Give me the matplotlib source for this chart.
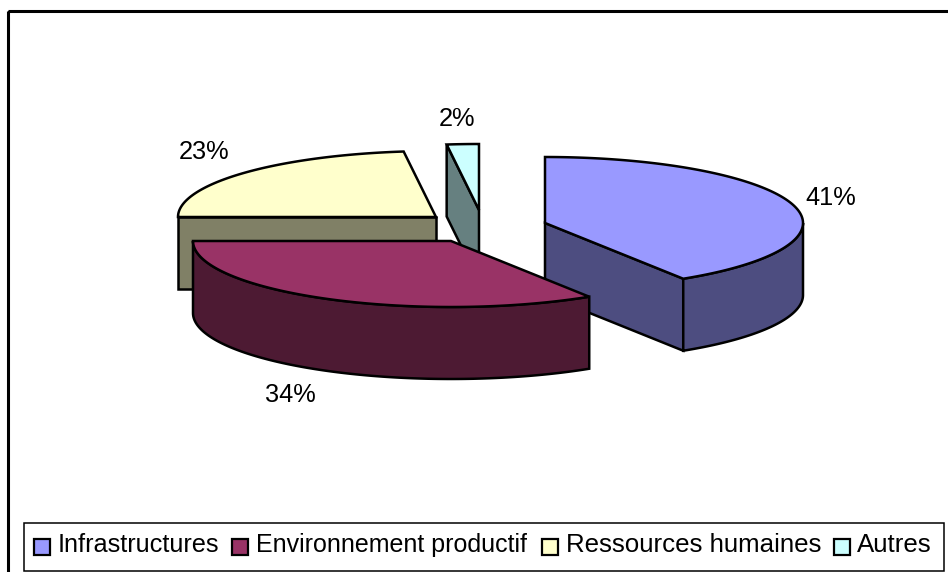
import numpy as np
import matplotlib
matplotlib.use("Agg")
import matplotlib.pyplot as plt
from matplotlib.patches import Polygon, Rectangle

plt.rcParams['font.family'] = ['Liberation Sans', 'DejaVu Sans']

categories = ["Infrastructures", "Environnement productif", "Ressources humaines", "Autres"]
shares = [41, 34, 23, 2]
top_colors = ["#9999FF", "#993366", "#FFFFCC", "#CCFFFF"]
side_colors = ["#4D4D80", "#4D1A33", "#808066", "#668080"]
# exploded slice apexes in pixel space
apex_x = [545, 451, 436, 479]
apex_y = [223, 241, 217, 210]
label_pos = [(831, 198), (290, 395), (204, 152), (457, 119)]
legend_swatch_x = [34, 232, 542, 834]
legend_text_x = [58, 256, 566, 857]
legend_font = [18.2, 18.0, 18.6, 18.6]

RX, RY, DEPTH = 258, 66, 72
W, H = 948, 572

fig = plt.figure(figsize=(W / 100, H / 100), dpi=100, facecolor="white")
ax = fig.add_axes([0, 0, 1, 1])
ax.set_xlim(0, W)
ax.set_ylim(H, 0)
ax.axis("off")


def rim(cx, cy, t0, t1):
    # Points along the elliptical rim; angles run clockwise from twelve o'clock.
    t = np.radians(np.linspace(t0, t1, 160))
    return np.column_stack([cx + RX * np.sin(t), cy - RY * np.cos(t)])


def poly(points, color, z):
    ax.add_patch(Polygon(points, closed=True, facecolor=color, edgecolor="black",
                         linewidth=1.8, joinstyle="miter", zorder=z))


# Back-to-front painting order: yellow, cyan, blue, red
edges = np.concatenate([[0], np.cumsum(shares)]) * 3.6
for layer, i in enumerate([2, 3, 0, 1]):
    cx, cy = apex_x[i], apex_y[i]
    t0, t1 = edges[i], edges[i + 1]
    z = 2 + layer
    drop = np.array([0, DEPTH])
    # Radial walls that turn toward the viewer
    for t, normal in ((t0, t0 - 90), (t1, t1 + 90)):
        if np.cos(np.radians(normal)) < -1e-6:
            outer = rim(cx, cy, t, t)[0]
            inner = np.array([cx, cy])
            poly([inner, outer, outer + drop, inner + drop], side_colors[i], z)
    # Curved outer wall on the front half of the ellipse
    lo, hi = max(t0, 90), min(t1, 270)
    if lo < hi:
        arc = rim(cx, cy, lo, hi)
        poly(np.vstack([arc, (arc + drop)[::-1]]), side_colors[i], z)
    # Top face
    poly(np.vstack([[cx, cy], rim(cx, cy, t0, t1)]), top_colors[i], z)

for (x, y), s in zip(label_pos, shares):
    ax.text(x, y, f"{s}%", fontsize=18.3, ha="center", va="center", color="black", zorder=10)

# Chart frame, whose right and lower sides run off the canvas, and the legend box
ax.add_patch(Rectangle((8.5, 11), 960, 590, facecolor="none", edgecolor="black",
                       linewidth=2.2, zorder=1))
ax.add_patch(Rectangle((24, 523), 920, 47.5, facecolor="white", edgecolor="black",
                       linewidth=1.1, zorder=8))
for name, color, sx, tx, fs in zip(categories, top_colors, legend_swatch_x, legend_text_x, legend_font):
    ax.add_patch(Rectangle((sx, 539), 16.5, 16, facecolor=color, edgecolor="black",
                           linewidth=1.6, zorder=9))
    ax.text(tx, 552, name, fontsize=fs, ha="left", va="baseline", color="black", zorder=10)

fig.savefig("out.png", dpi=100, facecolor="white")
